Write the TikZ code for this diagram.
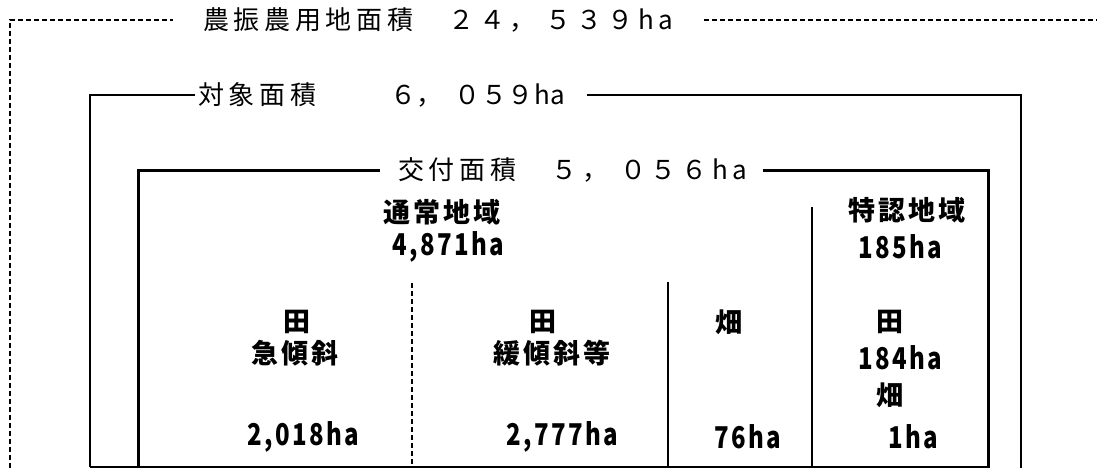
\documentclass[tikz,border=0pt]{standalone}
\usepackage{fontspec}
\usepackage{graphicx}
\newfontfamily\jp{Noto Sans CJK JP}
\newcommand\hanum[1]{\scalebox{0.8}[1]{\fontsize{30}{30}\selectfont #1}}
\tikzset{
    every node/.style={inner sep=0pt},
    ttl/.style={anchor=west,font=\jp\addfontfeature{LetterSpace=18}\fontsize{26}{26}\selectfont},
    lbl/.style={font=\jp\bfseries\addfontfeature{LetterSpace=10}\fontsize{27}{27}\selectfont},
    outerframe/.style={line width=1.3pt,dash pattern=on 5pt off 3pt},
    midframe/.style={line width=1.3pt},
    innerframe/.style={line width=3pt},
    split/.style={line width=1.3pt}
}

\begin{document}
\begin{tikzpicture}[x=1pt,y=-1pt]
    \useasboundingbox (0,0) rectangle (1097,468);
    \fill[white] (0,0) rectangle (1097,468);
    % frame titles
    \node (ttl) [ttl] at (203,20) {農振農用地面積　２４，\hspace{10pt}５３９ha};
    \node (obj) [ttl] at (198,95) {対象面積\hspace{74pt}{\addfontfeature{LetterSpace=2}６，\hspace{12pt}０５９ha}};
    \node (kofu) [ttl] at (398,170) {交付面積　５，\hspace{12pt}０５６ha};
    % frames
    \draw[outerframe] (10,468) |- (173,20);
    \draw[outerframe] (704,20) -- (1097,20);
    \draw[midframe] (90,467) |- (195,95);
    \draw[midframe] (587,95) -| (1021,468);
    \draw[midframe] (90,467) -- (988,467);
    \draw[innerframe] (138,468) |- (380,170);
    \draw[innerframe] (763,170) -| (988,468);
    % column splits
    \draw[split] (812,207) -- (812,467);
    \draw[split,dash pattern=on 5pt off 3pt] (412,283) -- (412,467);
    \draw[split] (668,282) -- (668,467);
    % region labels
    \node (tsujo) [lbl] at (442,212) {通常地域};
    \node (tsujoha) [lbl] at (448,247) {\hanum{4,871ha}};
    \node (tokunin) [lbl] at (907,210) {特認地域};
    \node (tokuninha) [lbl] at (900,247) {\hanum{185ha}};
    % columns
    \node (kyu) [lbl] at (297,322) {田};
    \node (kyuname) [lbl] at (295,353) {急傾斜};
    \node (kyuha) [lbl] at (303,437) {\hanum{2,018ha}};
    \node (kan) [lbl] at (543,322) {田};
    \node (kanname) [lbl] at (552,353) {緩傾斜等};
    \node (kanha) [lbl] at (562,437) {\hanum{2,777ha}};
    \node (hata) [lbl] at (729,322) {畑};
    \node (hataha) [lbl] at (748,437) {\hanum{76ha}};
    \node (tta) [lbl] at (890,322) {田};
    \node (ttaha) [lbl] at (900,358) {\hanum{184ha}};
    \node (thata) [lbl] at (890,395) {畑};
    \node (thataha) [lbl] at (913,437) {\hanum{1ha}};
\end{tikzpicture}
\end{document}
